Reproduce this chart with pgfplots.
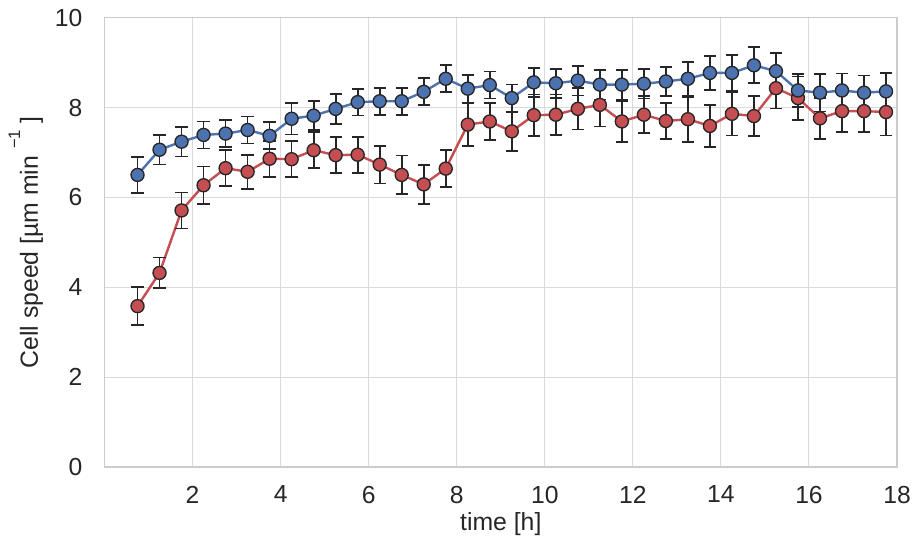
\documentclass[border=0pt]{standalone}
\usepackage{pgfplots}
\pgfplotsset{compat=1.18}
\usepackage{pgfplotstable}
\usepackage{fontspec}
\setmainfont{Liberation Sans}

\definecolor{sbblue}{HTML}{4C72B0}
\definecolor{sbred}{HTML}{C44E52}
\definecolor{gridgray}{HTML}{DADADA}
\definecolor{spinegray}{HTML}{CCCCCC}
\definecolor{txt}{HTML}{262626}

% time [h], mean speed, error
\pgfplotstableread{
x     y     e
0.75  6.50  0.40
1.25  7.06  0.33
1.75  7.24  0.33
2.25  7.39  0.30
2.75  7.42  0.30
3.25  7.50  0.30
3.75  7.37  0.30
4.25  7.75  0.35
4.75  7.82  0.32
5.25  7.97  0.33
5.75  8.12  0.30
6.25  8.14  0.30
6.75  8.14  0.30
7.25  8.35  0.30
7.75  8.64  0.30
8.25  8.42  0.31
8.75  8.50  0.30
9.25  8.21  0.30
9.75  8.56  0.32
10.25 8.54  0.32
10.75 8.60  0.33
11.25 8.51  0.33
11.75 8.51  0.33
12.25 8.53  0.33
12.75 8.58  0.33
13.25 8.64  0.37
13.75 8.77  0.38
14.25 8.77  0.40
14.75 8.94  0.40
15.25 8.81  0.40
15.75 8.38  0.37
16.25 8.33  0.42
16.75 8.38  0.38
17.25 8.33  0.38
17.75 8.36  0.41
}\blueseries

\pgfplotstableread{
x     y     e
0.75  3.58  0.42
1.25  4.32  0.34
1.75  5.71  0.40
2.25  6.27  0.42
2.75  6.65  0.40
3.25  6.57  0.38
3.75  6.86  0.40
4.25  6.85  0.40
4.75  7.05  0.40
5.25  6.94  0.40
5.75  6.95  0.40
6.25  6.73  0.42
6.75  6.50  0.43
7.25  6.29  0.43
7.75  6.64  0.41
8.25  7.62  0.48
8.75  7.69  0.41
9.25  7.47  0.43
9.75  7.83  0.46
10.25 7.84  0.45
10.75 7.97  0.46
11.25 8.06  0.48
11.75 7.69  0.46
12.25 7.84  0.41
12.75 7.70  0.40
13.25 7.74  0.50
13.75 7.59  0.47
14.25 7.86  0.48
14.75 7.81  0.44
15.25 8.43  0.45
15.75 8.21  0.48
16.25 7.76  0.46
16.75 7.92  0.47
17.25 7.92  0.47
17.75 7.90  0.52
}\redseries

\pgfplotsset{
  speedline/.style={
    line width=1.8pt,
    mark=*,
    mark size=4.9pt,
    mark options={draw=txt, line width=1pt, fill=#1},
    error bars/.cd,
      y dir=both, y explicit,
      error bar style={line width=1.3pt, txt},
      error mark options={rotate=90, mark size=4.6pt, line width=1.3pt, txt},
  },
}

\begin{document}
\begin{tikzpicture}[x=0.75pt,y=0.75pt]
\begin{axis}[
  at={(0,0)}, anchor=south west,
  scale only axis,
  width=594.4pt, height=337pt,
  xmin=0, xmax=18, ymin=0, ymax=10,
  xtick={2,4,...,18}, ytick={0,2,...,10},
  major tick length=0pt,
  grid=major,
  grid style={line width=0.75pt, gridgray},
  axis line style={line width=1pt, spinegray},
  tick label style={font=\fontsize{18.5pt}{20pt}\selectfont, txt, inner sep=0pt},
  /pgf/number format/assume math mode=true,
  xticklabel style={anchor=north, yshift=-14pt},
  yticklabel style={anchor=east, xshift=-16.5pt},
  xlabel={time [h]},
  ylabel={Cell speed [µm min \raisebox{0.72em}{\fontsize{12.5pt}{13pt}\selectfont −1} ]},
  label style={font=\fontsize{18.6pt}{20pt}\selectfont, txt, inner sep=0pt},
  xlabel style={at={(axis description cs:0.5,-0.1)}, anchor=north},
  ylabel style={at={(axis description cs:-0.084,0.5)}, anchor=base},
]
\addplot[sbred, speedline=sbred] table[x=x, y=y, y error=e] {\redseries};
\addplot[sbblue, speedline=sbblue] table[x=x, y=y, y error=e] {\blueseries};
\end{axis}
\path (-104.5,-75) rectangle (808.5,467);
\end{tikzpicture}
\end{document}
